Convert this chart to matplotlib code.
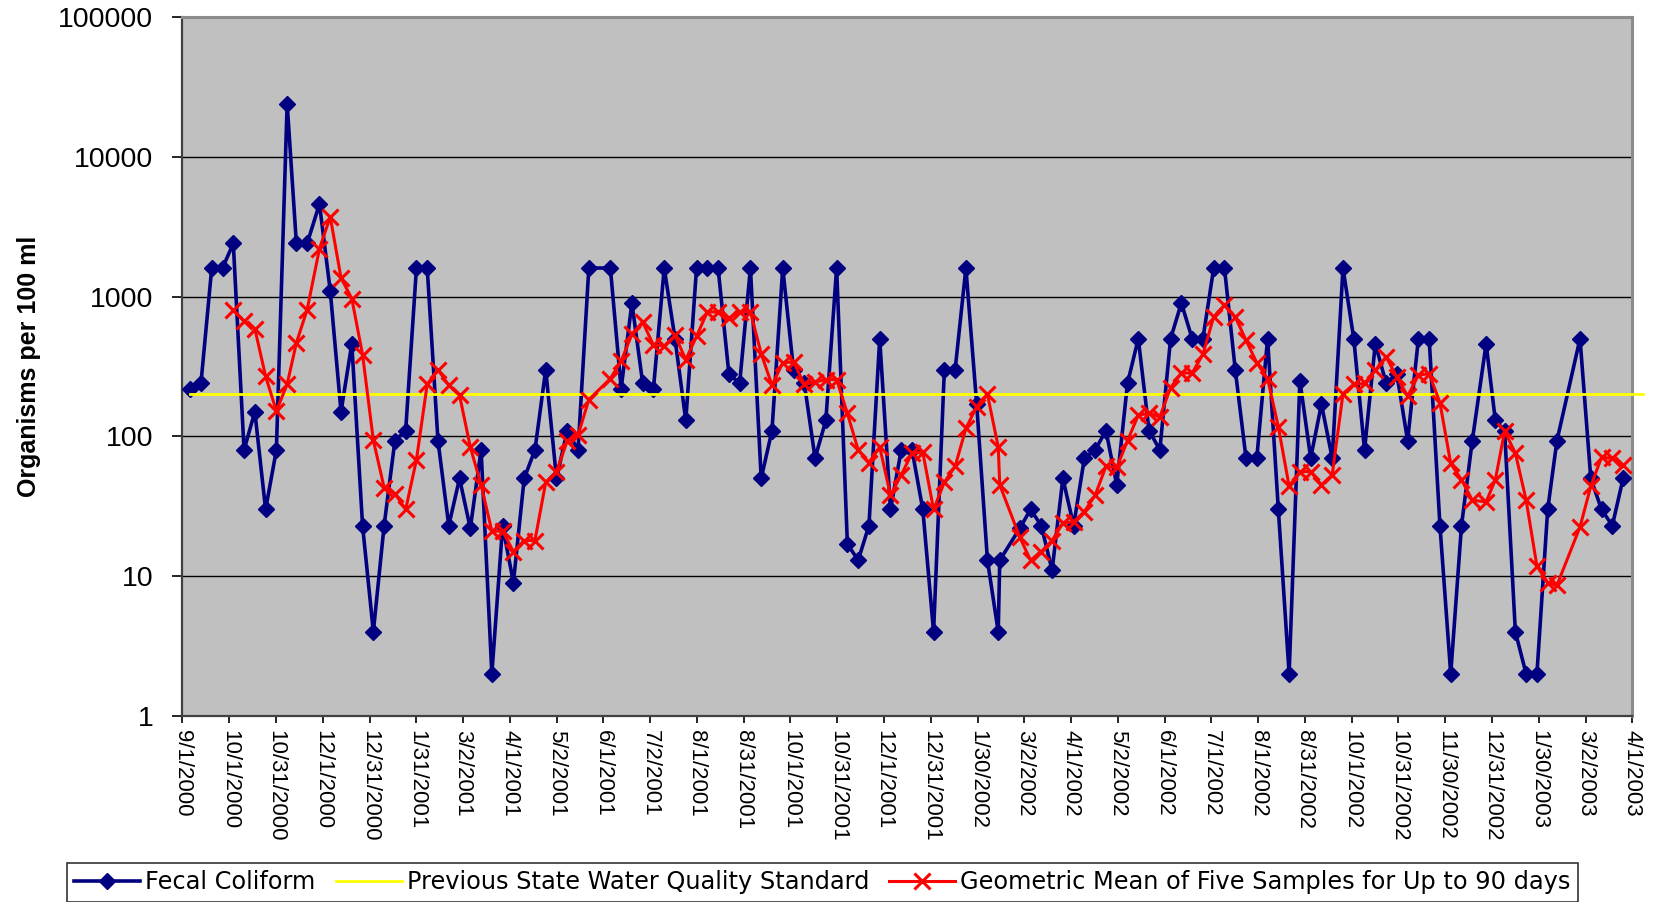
import numpy as np
import pandas as pd
import matplotlib
matplotlib.use("Agg")
import matplotlib.pyplot as plt
import matplotlib.dates as mdates
from matplotlib.ticker import FixedLocator, NullLocator

# ---------------- data ----------------
start_date = "2000-09-01"
end_date = "2003-04-01"

# sampling days, counted from 9/1/2000
sample_day = [5, 12, 19, 26, 33, 40, 47, 54, 61, 68,
              74, 81, 89, 96, 103, 110, 117, 124, 131, 138,
              145, 152, 159, 166, 173, 180, 187, 194, 201, 208,
              215, 222, 229, 236, 243, 250, 257, 264, 278, 285,
              292, 299, 306, 313, 320, 327, 334, 341, 348, 355,
              362, 369, 376, 383, 390, 397, 404, 411, 418, 425,
              432, 439, 446, 453, 460, 467, 474, 481, 488, 495,
              502, 509, 516, 523, 530, 531, 544, 551, 558, 565,
              572, 579, 586, 593, 600, 607, 614, 621, 628, 635,
              642, 649, 656, 663, 670, 677, 684, 691, 698, 705,
              712, 719, 726, 733, 740, 747, 754, 761, 768, 775,
              782, 789, 796, 803, 810, 817, 824, 831, 838, 847,
              853, 859, 866, 873, 880, 887, 893, 908, 915, 922,
              929, 936]

fecal_coliform = [220, 240, 1600, 1600, 2400, 80, 150, 30, 80, 24000,
                  2400, 2400, 4600, 1100, 150, 460, 23, 4, 23, 93,
                  110, 1600, 1600, 93, 23, 50, 22, 80, 2, 23,
                  9, 50, 80, 300, 50, 110, 80, 1600, 1600, 220,
                  900, 240, 220, 1600, 500, 130, 1600, 1600, 1600, 280,
                  240, 1600, 50, 110, 1600, 300, 240, 70, 130, 1600,
                  17, 13, 23, 500, 30, 80, 80, 30, 4, 300,
                  300, 1600, 170, 13, 4, 13, 22, 30, 23, 11,
                  50, 23, 70, 80, 110, 45, 240, 500, 110, 80,
                  500, 900, 500, 500, 1600, 1600, 300, 70, 70, 500,
                  30, 2, 250, 70, 170, 70, 1600, 500, 80, 460,
                  240, 280, 93, 500, 500, 23, 2, 23, 93, 460,
                  130, 110, 4, 2, 2, 30, 93, 500, 50, 30,
                  23, 50]

geometric_mean = [None, None, None, None,
                  800, 670, 590, 269, 152, 236, 467, 807, 2200, 3720,
                  1360, 968, 384, 94, 43, 39, 30, 68, 236, 300,
                  232, 197, 84, 45, 21, 21, 15, 18, 18, 47,
                  56, 93, 102, 183, 259, 345, 538, 659, 449, 444,
                  528, 354, 520, 777, 777, 700, 777, 777, 391, 232,
                  336, 341, 236, 245, 255, 255, 146, 80, 65, 84,
                  38, 53, 76, 77, 30, 47, 61, 114, 163, 200,
                  84, 45, 19, 13, 15, 18, 24, 24.5, 29, 38,
                  61, 60, 93, 142, 146, 138, 223, 284, 284, 387,
                  716, 867, 716, 487, 336, 259, 117, 44, 56, 56,
                  45, 53, 202, 236, 239, 297, 371, 266, 194, 274,
                  281, 174, 64, 49, 35, 34, 49, 109, 76, 35,
                  11.8, 9, 8.6, 22.5, 44, 71, 69.5, 62]

standard_value = 200
standard_days = [5, 949]

x_tick_labels = ["9/1/2000", "10/1/2000", "10/31/2000", "12/1/2000", "12/31/2000",
                 "1/31/2001", "3/2/2001", "4/1/2001", "5/2/2001", "6/1/2001",
                 "7/2/2001", "8/1/2001", "8/31/2001", "10/1/2001", "10/31/2001",
                 "12/1/2001", "12/31/2001", "1/30/2002", "3/2/2002", "4/1/2002",
                 "5/2/2002", "6/1/2002", "7/1/2002", "8/1/2002", "8/31/2002",
                 "10/1/2002", "10/31/2002", "11/30/2002", "12/31/2002", "1/30/2003",
                 "3/2/2003", "4/1/2003"]

y_ticks = [1, 10, 100, 1000, 10000, 100000]
y_tick_labels = ["1", "10", "100", "1000", "10000", "100000"]

series_names = ["Fecal Coliform",
                "Previous State Water Quality Standard",
                "Geometric Mean of Five Samples for Up to 90 days"]

# ---------------- figure ----------------
start = pd.Timestamp(start_date)
dates = start + pd.to_timedelta(sample_day, unit="D")
std_dates = start + pd.to_timedelta(standard_days, unit="D")
gm = np.array([np.nan if v is None else v for v in geometric_mean], dtype=float)

fig = plt.figure(figsize=(16.53, 9.02), dpi=100)
ax = fig.add_axes([0.1104, 0.2062, 0.8771, 0.7750])
ax.set_facecolor("#C0C0C0")

l1, = ax.plot(dates, fecal_coliform, color="#000080", lw=2.6, marker="D",
              markersize=8.5, markeredgecolor="#000080", zorder=3,
              label=series_names[0])
l2, = ax.plot(std_dates, [standard_value] * len(std_dates), color="#FFFF00",
              lw=2.0, zorder=4, clip_on=False, label=series_names[1])
l3, = ax.plot(dates, gm, color="#FF0000", lw=2.2, marker="x", markersize=12,
              markeredgewidth=2.2, zorder=5, label=series_names[2])

ax.set_yscale("log")
ax.set_ylim(1, 100000)
x0 = mdates.date2num(start)
x1 = mdates.date2num(pd.Timestamp(end_date))
ax.set_xlim(x0, x1)

ax.yaxis.set_major_locator(FixedLocator(y_ticks))
ax.yaxis.set_minor_locator(NullLocator())
ax.set_yticklabels(y_tick_labels, fontsize=20.5, family="Liberation Sans")
ax.yaxis.grid(True, color="black", lw=1.0, zorder=1)
ax.set_axisbelow(True)

xt = np.linspace(x0, x1, len(x_tick_labels))
ax.xaxis.set_major_locator(FixedLocator(xt))
ax.xaxis.set_minor_locator(NullLocator())
ax.set_xticklabels(x_tick_labels, rotation=-90, ha="center", va="top",
                   fontsize=16, family="Liberation Sans")

ax.tick_params(axis="y", direction="out", length=7, width=1.2, pad=14, colors="black")
ax.tick_params(axis="x", direction="out", length=5, width=1.2, pad=5, colors="black")

for s in ["top", "right"]:
    ax.spines[s].set_color("#8C8C8C")
    ax.spines[s].set_linewidth(2.2)
for s in ["left", "bottom"]:
    ax.spines[s].set_color("#404040")
    ax.spines[s].set_linewidth(1.6)

ax.set_ylabel("Organisms per 100 ml", fontsize=18, fontweight="bold",
              family="Liberation Sans", labelpad=12)
ax.yaxis.set_label_coords(-0.0975, 0.5)

leg = fig.legend(handles=[l1, l2, l3], loc="lower left",
                 bbox_to_anchor=(0.0405, 0.0005),
                 ncol=3, frameon=True, fancybox=False, edgecolor="black",
                 handlelength=2.75, handletextpad=0.2, borderpad=0.3,
                 borderaxespad=0.0, columnspacing=0.85,
                 prop={"family": "DejaVu Sans", "size": 17.3})
leg.get_frame().set_linewidth(1.2)

fig.savefig("out.png", dpi=100, facecolor="white")
